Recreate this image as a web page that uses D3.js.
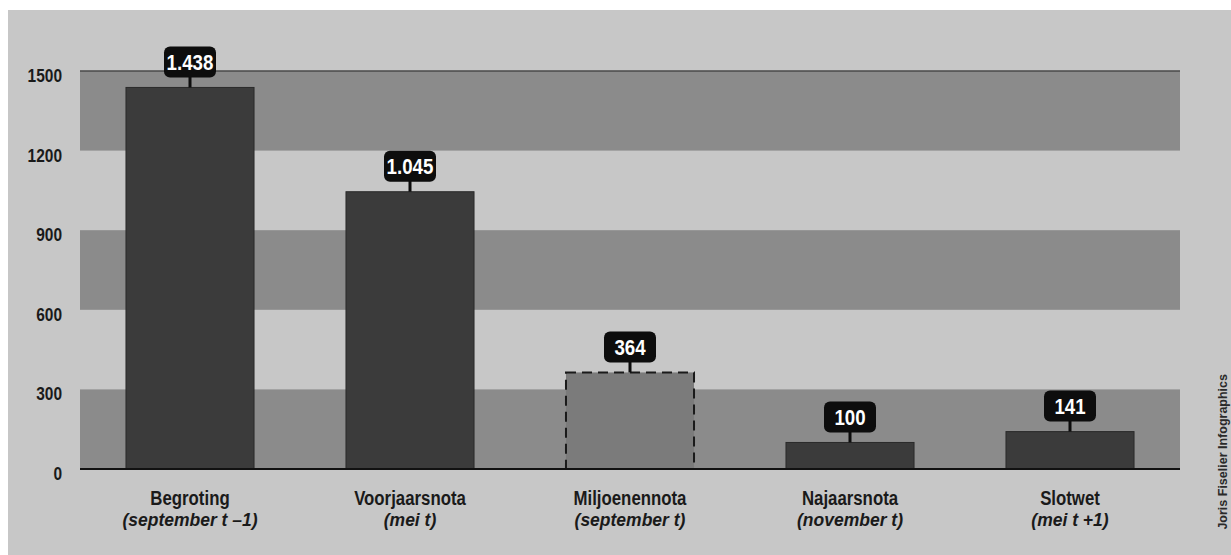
<!DOCTYPE html>
<html>
<head>
<meta charset="utf-8">
<script src="https://cdn.jsdelivr.net/npm/d3@7/dist/d3.min.js"></script>
<style>
  html, body { margin: 0; padding: 0; background: #ffffff; }
  svg { display: block; }
  text { font-family: 'Liberation Sans', Arial, sans-serif; }
</style>
</head>
<body>
<svg id="chart" width="1231" height="555"></svg>
<script>
// ---- data ----
const categories = ["Begroting", "Voorjaarsnota", "Miljoenennota", "Najaarsnota", "Slotwet"];
const subLabels = ["(september t \u20131)", "(mei t)", "(september t)", "(november t)", "(mei t +1)"];
const values = [1438, 1045, 364, 100, 141];
const valueLabels = ["1.438", "1.045", "364", "100", "141"];
const estimated = [false, false, true, false, false];
const yTicks = [0, 300, 600, 900, 1200, 1500];
const shadedBands = [[0, 300], [600, 900], [1200, 1500]];
const credit = "Joris Fiselier Infographics";

// ---- layout ----
const W = 1231, H = 555;
const plot = { left: 80, right: 1180, top: 71, bottom: 469 };

const svg = d3.select("#chart");

// horizontally condense a text selection (imitates a narrow typeface)
function condense(sel, factor) {
  sel.each(function () {
    const w = this.getComputedTextLength();
    d3.select(this).attr("textLength", w * factor).attr("lengthAdjust", "spacingAndGlyphs");
  });
}

// panel background
svg.append("rect")
  .attr("x", 8).attr("y", 10)
  .attr("width", W - 8).attr("height", H - 10)
  .attr("fill", "#c7c7c7");

const x = d3.scaleBand()
  .domain(categories)
  .range([plot.left, plot.right])
  .paddingInner(0.418)
  .paddingOuter(0.209);

const y = d3.scaleLinear()
  .domain([0, 1500])
  .range([plot.bottom, plot.top]);

// shaded horizontal bands
svg.append("g").selectAll("rect")
  .data(shadedBands)
  .join("rect")
  .attr("x", plot.left)
  .attr("width", plot.right - plot.left)
  .attr("y", d => y(d[1]))
  .attr("height", d => y(d[0]) - y(d[1]))
  .attr("fill", "#8b8b8b");

// top line at 1500
svg.append("line")
  .attr("x1", plot.left).attr("x2", plot.right)
  .attr("y1", y(1500)).attr("y2", y(1500))
  .attr("stroke", "#4a4a4a").attr("stroke-width", 1.5);

// y axis labels
const yAxis = d3.axisLeft(y).tickValues(yTicks).tickSize(0).tickPadding(0).tickFormat(d3.format("d"));
const yg = svg.append("g")
  .attr("transform", `translate(${62},0)`)
  .call(yAxis);
yg.select(".domain").remove();
yg.selectAll("text")
  .attr("font-family", "'Liberation Sans', Arial, sans-serif")
  .attr("font-size", 18)
  .attr("font-weight", "bold")
  .attr("fill", "#1a1a1a")
  .attr("dy", "0.58em")
  .call(condense, 0.86);

// bars
const data = categories.map((c, i) => ({ c, v: values[i], lab: valueLabels[i], est: estimated[i], sub: subLabels[i] }));

svg.append("g").selectAll("rect")
  .data(data)
  .join("rect")
  .attr("x", d => x(d.c))
  .attr("width", x.bandwidth())
  .attr("y", d => y(d.v))
  .attr("height", d => y(0) - y(d.v))
  .attr("fill", d => d.est ? "#7b7b7b" : "#3b3b3b")
  .attr("stroke", d => d.est ? "#1a1a1a" : "#2a2a2a")
  .attr("stroke-width", d => d.est ? 2 : 1)
  .attr("stroke-dasharray", d => d.est ? "10,6" : null);

// zero axis line
svg.append("line")
  .attr("x1", plot.left).attr("x2", plot.right)
  .attr("y1", y(0)).attr("y2", y(0))
  .attr("stroke", "#111").attr("stroke-width", 2);

// value callouts
const boxH = 31, stem = 10;
const cg = svg.append("g").selectAll("g")
  .data(data)
  .join("g")
  .attr("transform", d => `translate(${x(d.c) + x.bandwidth() / 2},${y(d.v)})`);

cg.append("rect")
  .attr("x", -1.5).attr("width", 3)
  .attr("y", -stem - 2).attr("height", stem + 2)
  .attr("fill", "#0d0d0d");

const txt = cg.append("text")
  .attr("text-anchor", "middle")
  .attr("font-size", 22)
  .attr("font-weight", "bold")
  .attr("fill", "#ffffff")
  .attr("y", -stem - boxH / 2 + 8)
  .text(d => d.lab)
  .call(condense, 0.85);

txt.each(function () {
  const w = Math.max(this.getComputedTextLength() * 0.85 + 10, 52);
  d3.select(this.parentNode).insert("rect", "text")
    .attr("x", -w / 2).attr("width", w)
    .attr("y", -stem - boxH).attr("height", boxH)
    .attr("rx", 6).attr("ry", 6)
    .attr("fill", "#0d0d0d");
});

// x labels
const xg = svg.append("g");
xg.selectAll("text.main")
  .data(data)
  .join("text")
  .attr("class", "main")
  .attr("x", d => x(d.c) + x.bandwidth() / 2)
  .attr("y", 505)
  .attr("text-anchor", "middle")
  .attr("font-size", 20)
  .attr("font-weight", "bold")
  .attr("fill", "#1a1a1a")
  .text(d => d.c)
  .call(condense, 0.84);

xg.selectAll("text.sub")
  .data(data)
  .join("text")
  .attr("class", "sub")
  .attr("x", d => x(d.c) + x.bandwidth() / 2)
  .attr("y", 526)
  .attr("text-anchor", "middle")
  .attr("font-size", 17.5)
  .attr("font-weight", "bold")
  .attr("font-style", "italic")
  .attr("fill", "#1a1a1a")
  .text(d => d.sub);

// credit
svg.append("text")
  .attr("transform", `translate(1227,374) rotate(-90)`)
  .attr("text-anchor", "end")
  .attr("font-size", 12.5)
  .attr("font-weight", "bold")
  .attr("fill", "#2a2a2a")
  .text(credit);
</script>
</body>
</html>
